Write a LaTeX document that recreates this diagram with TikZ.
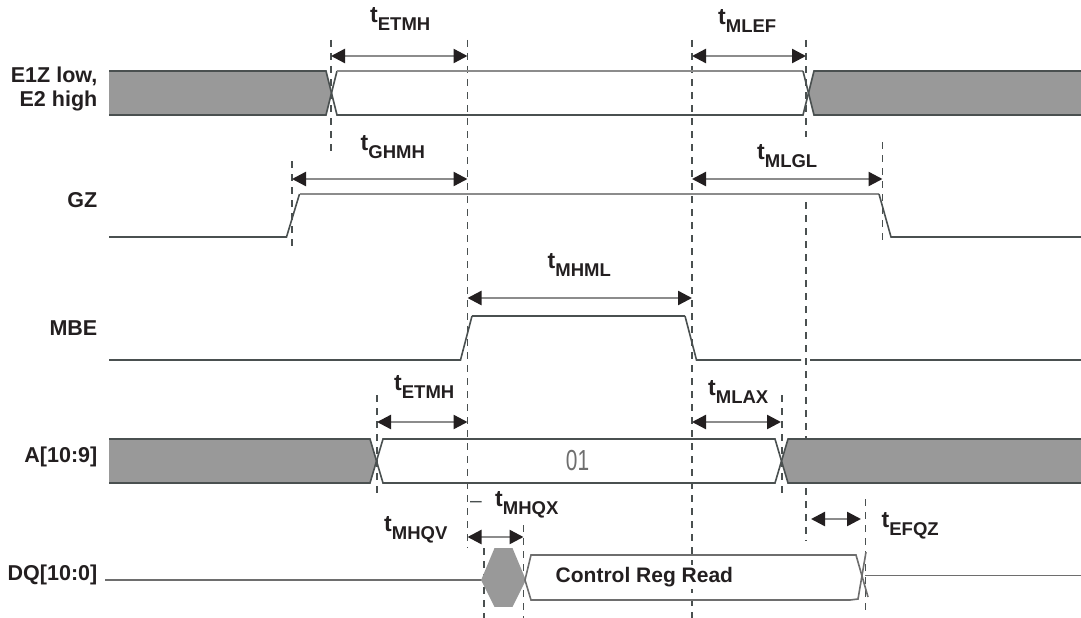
\documentclass[tikz,border=0pt]{standalone}
\usepackage{fontspec}
\setmainfont{Liberation Sans}
\usetikzlibrary{arrows.meta}
\definecolor{inkdark}{HTML}{231F20}
\definecolor{wavegray}{HTML}{999999}
\definecolor{wavedark}{HTML}{4A5050}
\definecolor{wavelight}{HTML}{8C8C8C}
\definecolor{wavemid}{HTML}{6E6E6E}
\newcommand{\tlabel}[1]{{\fontsize{23}{24}\selectfont t}\raisebox{-8pt}{\fontsize{18.5}{18}\selectfont #1}}
\tikzset{
  signame/.style={anchor=east,align=right,inner sep=0pt,text=inkdark,font=\bfseries\fontsize{21.5}{24}\selectfont},
  timename/.style={anchor=base west,inner sep=0pt,text=inkdark,font=\bfseries\fontsize{21}{24}\selectfont},
  guide/.style={draw=wavedark,line width=1.3pt,dash pattern=on 7pt off 6pt},
  span/.style={draw=wavelight,line width=2.4pt,{Triangle[length=14pt,width=14pt,color=inkdark]}-{Triangle[length=14pt,width=14pt,color=inkdark]}},
  high/.style={draw=wavelight,line width=2pt},
  low/.style={draw=wavedark,line width=1.6pt}
}
\begin{document}
\begin{tikzpicture}[x=1pt,y=-1pt]
\useasboundingbox (0,0) rectangle (1081,618);

% vertical guides
\foreach \gname/\gx/\gtop/\gbot in {g1/331/40/153,g2/467.5/40/548,g3/692/40/618,g4a/806/40/137,g4b/806/202/541,g5/882.5/142/245,g6/292/161/247,g7/377/395/497,g8/782/395/497,g9/484/548/618,g10/523.5/525/618,g11/865.5/499/613}{
  \coordinate (\gname t) at (\gx,\gtop);
  \coordinate (\gname b) at (\gx,\gbot);
  \draw [guide] (\gname t) -- (\gname b);
}

% E1Z, E2
\fill [wavegray] (109,71) -- (326,71) -- (331,93) -- (326,115) -- (109,115) -- cycle;
\fill [wavegray] (1081,71) -- (814,71) -- (808.5,93) -- (814,115) -- (1081,115) -- cycle;
\draw [low] (109,71) -- (326,71) -- (337,115) -- (803,115) -- (814,71) -- (1081,71);
\draw [low] (109,115) -- (326,115) -- (337,71);
\draw [high] (337,71) -- (803,71);
\draw [low] (803,71) -- (814,115) -- (1081,115);

% GZ
\draw [low] (109,237) -- (286.5,237) -- (299.5,194);
\draw [high] (299.5,194) -- (879,194);
\draw [low] (879,194) -- (891,237) -- (1081,237);

% MBE
\draw [low] (109,360) -- (460.5,360) -- (472,316);
\draw [high,draw=wavedark] (472,316) -- (685,316);
\draw [low] (685,316) -- (696.5,360) -- (801,360);
\draw [low] (810,360) -- (1081,360);

% A[10:9]
\fill [wavegray] (109,439) -- (370,439) -- (377,461) -- (370,483) -- (109,483) -- cycle;
\fill [wavegray] (1081,439) -- (788,439) -- (782,461) -- (788,483) -- (1081,483) -- cycle;
\draw [low] (109,439) -- (370,439) -- (383,483) -- (775,483) -- (788,439) -- (1081,439);
\draw [low] (109,483) -- (370,483) -- (383,439) -- (775,439) -- (788,483) -- (1081,483);

% DQ[10:0]
\draw [low,draw=wavemid] (105,580) -- (482,580);
\draw [low,fill=wavegray,draw=wavegray] (482,580) -- (495,549) -- (512,549) -- (525,580) -- (512,606) -- (495,606) -- cycle;
\draw [low,draw=wavemid] (525,580) -- (531,555) -- (856,555) -- (868,597);
\draw [low,draw=wavemid] (525,580) -- (531,600) -- (850,600) -- (858,599) -- (866,552);
\draw [low,draw=wavemid] (865,575.5) -- (1081,575.5);

% spans
\foreach \sname/\sx/\sy/\sxb in {s1/331/56/467.5,s2/692/56/806,s3/292/179/467.5,s4/692/179/882.5,s5/467.5/298/692,s6/377/422/467.5,s7/692/422/781,s8/467.5/537/523.5,s9/811/519/861}{
  \coordinate (\sname l) at (\sx,\sy);
  \coordinate (\sname r) at (\sxb,\sy);
  \draw [span] (\sname l) -- (\sname r);
}

\node [signame] (e1z) at (97.5,89) {E1Z low,\\E2 high};
\node [signame] (gz) at (97.5,200) {GZ};
\node [signame] (mbe) at (97.5,328) {MBE};
\node [signame] (addr) at (97.5,457) {A[10:9]};
\node [signame] (dq) at (97.5,575) {DQ[10:0]};

\node [timename] (etmha) at (370,22.5) {\tlabel{ETMH}};
\node [timename] (mlef) at (718,24.5) {\tlabel{MLEF}};
\node [timename] (ghmh) at (360.5,150.5) {\tlabel{GHMH}};
\node [timename] (mlgl) at (757,159.5) {\tlabel{MLGL}};
\node [timename] (mhml) at (547.5,268.5) {\tlabel{MHML}};
\node [timename] (etmhb) at (394,390.5) {\tlabel{ETMH}};
\node [timename] (mlax) at (708,395.5) {\tlabel{MLAX}};
\node [timename] (mhqx) at (495,506.5) {\tlabel{MHQX}};
\node [timename] (mhqv) at (384,531) {\tlabel{MHQV}};
\node [timename] (efqz) at (881.5,527.5) {\tlabel{EFQZ}};

\node [anchor=center,inner sep=0pt,text=wavedark,font=\fontsize{21}{21}\selectfont] (dash) at (476,504) {--};
\node [anchor=center,inner sep=0pt,text=wavemid,xscale=.72,font=\fontsize{29}{29}\selectfont] (val) at (577.5,461) {01};
\node [anchor=west,inner sep=2pt,fill=white,text=inkdark,font=\bfseries\fontsize{21}{24}\selectfont] (ctrl) at (553.5,577) {Control Reg Read};
\end{tikzpicture}
\end{document}
